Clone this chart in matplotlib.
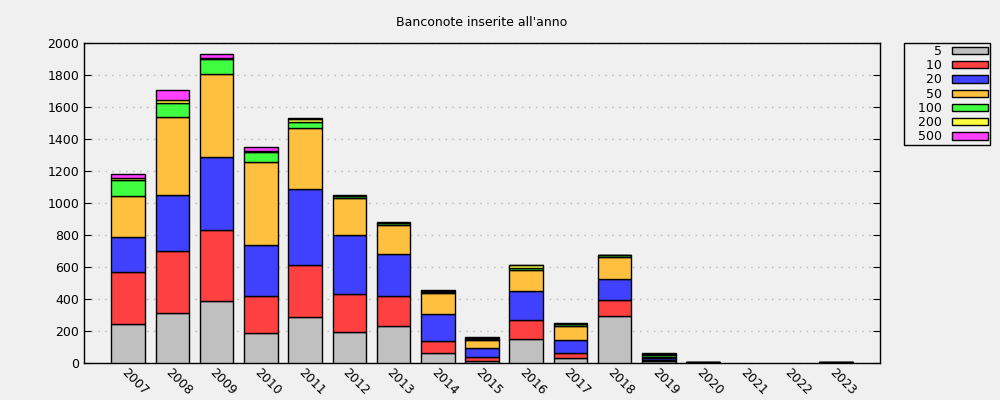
import matplotlib.pyplot as plt
from matplotlib.patches import Patch

years = ['2007', '2008', '2009', '2010', '2011', '2012', '2013', '2014', '2015',
         '2016', '2017', '2018', '2019', '2020', '2021', '2022', '2023']

# banconote per taglio
n5 = [242, 310, 385, 185, 285, 192, 229, 60, 10, 148, 29, 292, 12, 3, 0, 0, 3]
n10 = [325, 390, 444, 232, 325, 237, 188, 75, 25, 119, 31, 100, 8, 2, 0, 0, 2]
n20 = [218, 350, 458, 318, 475, 369, 262, 169, 57, 181, 82, 131, 10, 2, 0, 0, 2]
n50 = [257, 490, 517, 519, 382, 231, 181, 131, 50, 131, 87, 137, 10, 1, 0, 0, 1]
n100 = [102, 87, 94, 65, 41, 13, 13, 11, 10, 15, 13, 13, 10, 0, 0, 0, 0]
n200 = [10, 19, 10, 5, 15, 2, 5, 5, 3, 16, 3, 2, 4, 0, 0, 0, 0]
n500 = [29, 58, 23, 26, 6, 4, 5, 7, 7, 4, 7, 2, 6, 1, 0, 0, 1]

labels = ['5', '10', '20', '50', '100', '200', '500']
series = [n5, n10, n20, n50, n100, n200, n500]
colors = ['#c0c0c0', '#ff4040', '#4040ff', '#ffc040', '#40ff40', '#ffff40', '#ff40ff']

bg = '#f0f0f0'
fig = plt.figure(figsize=(10, 4), dpi=100, facecolor=bg)
ax = fig.add_axes([0.084, 0.0925, 0.796, 0.8])
ax.set_facecolor(bg)

bottom = [0] * len(years)
for lab, vals, col in zip(labels, series, colors):
    # skip empty segments so no zero-height outline is drawn
    xs = [i for i, v in enumerate(vals) if v > 0]
    ax.bar(xs, [vals[i] for i in xs], width=0.76, bottom=[bottom[i] for i in xs],
           color=col, edgecolor='black', linewidth=1, label=lab, zorder=3)
    bottom = [b + v for b, v in zip(bottom, vals)]

ax.set_xlim(-1, 17)
ax.set_ylim(0, 2000)
ax.set_yticks(range(0, 2001, 200))
ax.set_xticks(range(len(years)))
ax.set_xticklabels(years, rotation=-45, ha='left', va='top', rotation_mode='anchor')
ax.tick_params(axis='y', direction='in', length=5, right=True, labelsize=9)
ax.tick_params(axis='x', length=0, labelsize=9, pad=2)
ax.grid(axis='y', color='#b8b8b8', linestyle=(0, (1, 4)), linewidth=1, zorder=0)
for s in ax.spines.values():
    s.set_linewidth(1)

ax.set_title("Banconote inserite all'anno", fontsize=9, pad=12)

# legend: labels right-aligned before the colour swatch, gnuplot style
handles = [Patch(facecolor=c, edgecolor='black', label='   ' + l) for l, c in zip(labels, colors)]
leg = fig.legend(handles=handles, loc='upper right', bbox_to_anchor=(0.99, 0.8925),
                 bbox_transform=fig.transFigure, borderaxespad=0, markerfirst=False,
                 fancybox=False, edgecolor='black', facecolor=bg, framealpha=1,
                 fontsize=9, handlelength=2.9, handleheight=0.5, labelspacing=0.1,
                 borderpad=0.15, handletextpad=0.8)
leg.get_frame().set_linewidth(1)

plt.savefig('out.png', dpi=100, facecolor=bg)
